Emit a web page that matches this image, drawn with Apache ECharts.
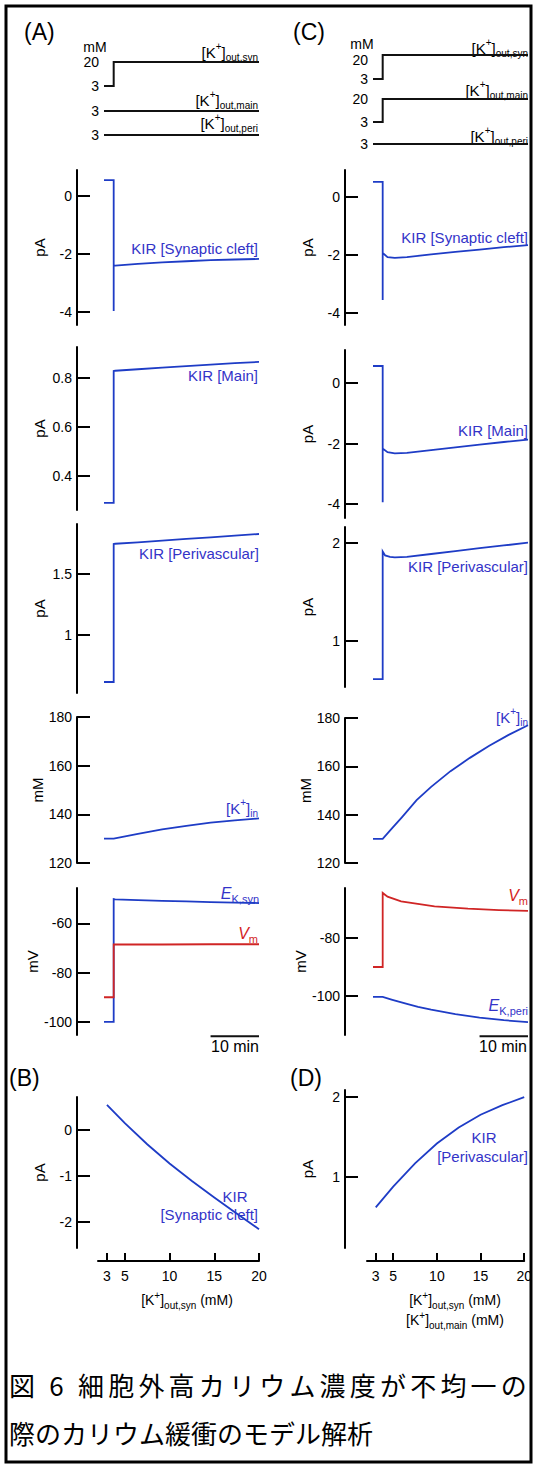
<!DOCTYPE html>
<html><head><meta charset="utf-8">
<script src="https://cdn.jsdelivr.net/npm/echarts@6/dist/echarts.min.js"></script>
<style>html,body{margin:0;padding:0;background:#fff}#c{width:535px;height:1468px}</style>
</head><body><div id="c"></div>
<script>
// ---------------- DATA ----------------
// header traces: extracellular K+ (mM) vs time (min)
const tHeadStep = [-2, 0, 0, 30];
const tHeadFlat = [-2, 30];
const kOutSynA = [3, 3, 20, 20];
const kOutMainA = [3, 3];
const kOutPeriA = [3, 3];
const kOutSynC = [3, 3, 20, 20];
const kOutMainC = [3, 3, 20, 20];
const kOutPeriC = [3, 3];

// (A) KIR currents (pA)
const tKirSynA = [-2, 0, 0, 0, 0.3, 5, 10, 15, 20, 25, 30];
const kirSynA = [0.55, 0.55, -3.97, -2.41, -2.40, -2.34, -2.29, -2.25, -2.21, -2.19, -2.17];
const tKirMainA = [-2, 0, 0, 0.3, 5, 10, 15, 20, 25, 30];
const kirMainA = [0.29, 0.29, 0.829, 0.830, 0.836, 0.843, 0.849, 0.855, 0.861, 0.866];
const tKirPeriA = [-2, 0, 0, 0.3, 5, 10, 15, 20, 25, 30];
const kirPeriA = [0.615, 0.615, 1.746, 1.748, 1.760, 1.774, 1.788, 1.801, 1.815, 1.828];
// (A) intracellular K+ (mM)
const tKinA = [-2, 0, 5, 10, 15, 20, 25, 30];
const kInA = [130, 130, 132, 133.8, 135.3, 136.6, 137.5, 138.3];
// (A) potentials (mV)
const tEkA = [-2, 0, 0, 0.3, 5, 10, 15, 20, 25, 30];
const ekSynA = [-100, -100, -50.2, -50.3, -50.6, -50.9, -51.1, -51.4, -51.6, -51.8];
const tVmA = [-2, 0, 0, 10, 20, 30];
const vmA = [-90, -90, -68.6, -68.6, -68.5, -68.5];

// (C) KIR currents (pA)
const tKirSynC = [-2, 0, 0, 0, 1, 2.5, 5, 10, 15, 20, 25, 30];
const kirSynC = [0.52, 0.52, -3.55, -1.93, -2.07, -2.10, -2.07, -1.98, -1.89, -1.81, -1.73, -1.66];
const tKirMainC = [-2, 0, 0, 0, 1, 2.5, 5, 10, 15, 20, 25, 30];
const kirMainC = [0.57, 0.57, -3.95, -2.17, -2.29, -2.33, -2.31, -2.22, -2.13, -2.04, -1.95, -1.87];
const tKirPeriC = [-2, 0, 0, 0.5, 1.5, 2.5, 5, 10, 15, 20, 25, 30];
const kirPeriC = [0.61, 0.61, 1.91, 1.87, 1.855, 1.85, 1.855, 1.885, 1.915, 1.945, 1.972, 2.0];
// (C) intracellular K+ (mM)
const tKinC = [-2, 0, 2, 4, 7, 10, 14, 18, 22, 26, 30];
const kInC = [130, 130, 134.5, 139, 146, 151.5, 158, 163.5, 168.5, 173, 177];
// (C) potentials (mV)
const tVmC = [-2, 0, 0, 1, 3.8, 10.7, 17.6, 24, 30];
const vmC = [-90, -90, -64.5, -65.8, -67.4, -69.1, -69.9, -70.4, -70.7];
const tEkC = [-2, 0, 2, 5, 7.3, 10, 15, 20, 25, 30];
const ekPeriC = [-100.3, -100.3, -101.3, -102.7, -103.7, -104.7, -106.2, -107.4, -108.3, -109];

// scale bar (min)
const scaleBarT = [20, 30];

// (B) and (D): steady-state KIR current vs [K+]out (mM)
const kOutB = [3, 5, 7.5, 10, 12.5, 15, 17.5, 20];
const kirSynB = [0.55, 0.15, -0.31, -0.73, -1.11, -1.47, -1.82, -2.16];
const kOutD = [3, 5, 7.5, 10, 12.5, 15, 17.5, 20];
const kirPeriD = [0.62, 0.88, 1.17, 1.42, 1.62, 1.78, 1.90, 2.0];
const kTicks = [3, 5, 10, 15, 20];

// caption
const captionLine1 = '図 6 細胞外高カリウム濃度が不均一の';
const captionLine2 = '際のカリウム緩衝のモデル解析';

// ---------------- STYLE ----------------
const FONT = '"Liberation Sans", Arial, Helvetica, sans-serif';
const JP = '"Noto Sans CJK JP", sans-serif';
const BLUE = '#1e3cc6';
const BLUE_T = '#3333c8';
const RED = '#d02525';
const RED_T = '#d41e1e';

const pair = (xs, ys) => xs.map((x, i) => [x, ys[i]]);
const grids = [], xAxes = [], yAxes = [], series = [];

function addGrid(g, xa, ya) {
  const i = grids.length;
  grids.push(Object.assign({containLabel: false}, g));
  xAxes.push(Object.assign({gridIndex: i, type: 'value', show: false}, xa));
  yAxes.push(Object.assign({gridIndex: i, type: 'value'}, ya));
  return i;
}
function line(gi, data, color, w) {
  series.push({type: 'line', xAxisIndex: gi, yAxisIndex: gi, data, symbol: 'none', showSymbol: false,
    clip: false, silent: true, animation: false, lineStyle: {color, width: w || 1.8, join: 'miter', cap: 'butt'}});
}
function headAxis(labels, lowTop) {
  const lab = {show: true, customValues: labels, margin: 5, fontSize: 14, color: '#000', fontFamily: FONT};
  if (lowTop) {
    lab.formatter = v => (v === 20 ? '{d|' + v + '}' : '{e|' + v + '}');
    lab.rich = {d: {fontSize: 14, fontFamily: FONT, color: '#000', padding: [10, 0, 0, 0]},
                e: {fontSize: 14, fontFamily: FONT, color: '#000'}};
  }
  return {min: 3, max: 20, axisLine: {show: false}, axisTick: {show: false}, splitLine: {show: false}, axisLabel: lab};
}
function traceAxis(min, max, ticks, name, offset) {
  return {min, max, offset, splitLine: {show: false},
    axisLine: {show: true, onZero: false, lineStyle: {color: '#000', width: 2}},
    axisTick: {show: true, inside: true, length: 13, customValues: ticks, lineStyle: {color: '#000', width: 2}},
    axisLabel: {show: true, customValues: ticks, margin: 5, fontSize: 14, color: '#000', fontFamily: FONT},
    name, nameLocation: 'middle', nameGap: 30,
    nameTextStyle: {fontSize: 15, color: '#000', fontFamily: FONT}};
}
const TX = {min: -2, max: 30};
const AL = 104, CL = 373, W = 155;

// headers
line(addGrid({left: AL, top: 62, width: W, height: 24}, TX, headAxis([3, 20])), pair(tHeadStep, kOutSynA), '#111', 2);
line(addGrid({left: AL, top: 87, width: W, height: 24}, TX, headAxis([3])), pair(tHeadFlat, kOutMainA), '#111', 2);
line(addGrid({left: AL, top: 111, width: W, height: 24}, TX, headAxis([3])), pair(tHeadFlat, kOutPeriA), '#111', 2);
line(addGrid({left: CL, top: 55, width: W, height: 24}, TX, headAxis([3, 20], true)), pair(tHeadStep, kOutSynC), '#111', 2);
line(addGrid({left: CL, top: 99, width: W, height: 23}, TX, headAxis([3, 20])), pair(tHeadStep, kOutMainC), '#111', 2);
line(addGrid({left: CL, top: 120, width: W, height: 24}, TX, headAxis([3])), pair(tHeadFlat, kOutPeriC), '#111', 2);

// column A
line(addGrid({left: AL, top: 170, width: W, height: 155}, TX, traceAxis(-4.45, 0.9, [-4, -2, 0], 'pA', 27)), pair(tKirSynA, kirSynA), BLUE);
line(addGrid({left: AL, top: 347, width: W, height: 163}, TX, traceAxis(0.261, 0.927, [0.4, 0.6, 0.8], 'pA', 27)), pair(tKirMainA, kirMainA), BLUE);
line(addGrid({left: AL, top: 524, width: W, height: 169}, TX, traceAxis(0.525, 1.91, [1, 1.5], 'pA', 27)), pair(tKirPeriA, kirPeriA), BLUE);
line(addGrid({left: AL, top: 717, width: W, height: 146}, TX, traceAxis(120, 180, [120, 140, 160, 180], 'mM', 27)), pair(tKinA, kInA), BLUE);
const gA5 = addGrid({left: AL, top: 888, width: W, height: 147}, TX, traceAxis(-105.3, -45.7, [-100, -80, -60], 'mV', 27));
line(gA5, pair(tEkA, ekSynA), BLUE);
line(gA5, pair(tVmA, vmA), RED);
line(gA5, scaleBarT.map(t => [t, -105.8]), '#111', 2);

// column C
line(addGrid({left: CL, top: 170, width: W, height: 155}, TX, traceAxis(-4.41, 0.93, [-4, -2, 0], 'pA', 28)), pair(tKirSynC, kirSynC), BLUE);
line(addGrid({left: CL, top: 350, width: W, height: 168}, TX, traceAxis(-4.47, 1.1, [-4, -2, 0], 'pA', 28)), pair(tKirMainC, kirMainC), BLUE);
line(addGrid({left: CL, top: 527, width: W, height: 160}, TX, traceAxis(0.53, 2.16, [1, 2], 'pA', 28)), pair(tKirPeriC, kirPeriC), BLUE);
line(addGrid({left: CL, top: 718, width: W, height: 145}, TX, traceAxis(120, 180, [120, 140, 160, 180], 'mM', 28)), pair(tKinC, kInC), BLUE);
const gC5 = addGrid({left: CL, top: 888, width: W, height: 147}, TX, traceAxis(-113.4, -62.8, [-100, -80], 'mV', 28));
line(gC5, pair(tVmC, vmC), RED);
line(gC5, pair(tEkC, ekPeriC), BLUE);
line(gC5, scaleBarT.map(t => [t, -113.8]), '#111', 2);

// (B), (D)
function kAxis() {
  return {show: true, min: 2, max: 20, offset: 13,
    axisLine: {show: true, onZero: false, lineStyle: {color: '#000', width: 2}},
    axisTick: {show: true, inside: true, length: 8, customValues: kTicks, lineStyle: {color: '#000', width: 2}},
    axisLabel: {show: true, customValues: kTicks, margin: 8, fontSize: 14, color: '#000', fontFamily: FONT},
    splitLine: {show: false}};
}
line(addGrid({left: AL - 6, top: 1097, width: W + 6, height: 151}, kAxis(), traceAxis(-2.57, 0.72, [-2, -1, 0], 'pA', 21)), pair(kOutB, kirSynB), BLUE);
line(addGrid({left: CL - 6, top: 1090, width: W + 6, height: 158}, kAxis(), traceAxis(0.11, 2.09, [1, 2], 'pA', 22)), pair(kOutD, kirPeriD), BLUE);

// ---------------- TEXT ----------------
function rich(size, color) {
  const s = Math.round(size * 0.68);
  return {
    n: {fontSize: size, fontFamily: FONT, color, lineHeight: size + 6},
    i: {fontSize: size, fontFamily: FONT, fontStyle: 'italic', color, lineHeight: size + 6},
    sup: {fontSize: s, fontFamily: FONT, color, lineHeight: s, verticalAlign: 'top'},
    sub: {fontSize: s, fontFamily: FONT, color, lineHeight: s, verticalAlign: 'bottom'},
    c: {fontSize: 26, fontFamily: JP, color: '#000', lineHeight: 30, padding: [0, 2.1, 0, 2.1]}
  };
}
function txt(x, y, text, opt) {
  opt = opt || {};
  const size = opt.size || 15, color = opt.color || '#000';
  return {type: 'text', x, y, silent: true, style: {text, rich: rich(size, color), fill: color,
    fontSize: size, fontFamily: opt.family || FONT, align: opt.align || 'right', verticalAlign: opt.va || 'middle',
    fontStyle: opt.style || 'normal'}};
}
function plain(x, y, text, size, align) {
  return {type: 'text', x, y, silent: true, style: {text, fill: '#000', fontSize: size, fontFamily: FONT,
    align: align || 'left', verticalAlign: 'middle'}};
}
const kLab = s => '{n|[K}{sup|+}{n|]}{sub|' + s + '}';
const spread = s => Array.from(s).map(ch => '{c|' + ch + '}').join('');
const graphic = [
  {type: 'rect', shape: {x: 6, y: 6, width: 525, height: 1456}, style: {fill: 'none', stroke: '#000', lineWidth: 3}, silent: true},
  plain(24, 32, '(A)', 23),
  plain(293, 32, '(C)', 23),
  plain(9, 1078, '(B)', 23),
  plain(290, 1078, '(D)', 23),
  plain(95, 47, 'mM', 14, 'center'),
  plain(362, 44, 'mM', 14, 'center'),
  txt(258, 52, kLab('out,syn')),
  txt(258, 100, kLab('out,main')),
  txt(258, 123, kLab('out,peri')),
  txt(528, 48, kLab('out,syn')),
  txt(528, 90, kLab('out,main')),
  txt(528, 136, kLab('out,peri')),
  txt(258, 248, '{n|KIR [Synaptic cleft]}', {color: BLUE_T}),
  txt(528, 237, '{n|KIR [Synaptic cleft]}', {color: BLUE_T}),
  txt(258, 375, '{n|KIR [Main]}', {color: BLUE_T}),
  txt(528, 430, '{n|KIR [Main]}', {color: BLUE_T}),
  txt(259, 553, '{n|KIR [Perivascular]}', {color: BLUE_T}),
  txt(528, 566, '{n|KIR [Perivascular]}', {color: BLUE_T}),
  txt(258, 808, '{n|[K}{sup|+}{n|]}{sub|in}', {color: BLUE_T}),
  txt(528, 717, '{n|[K}{sup|+}{n|]}{sub|in}', {color: BLUE_T}),
  txt(259, 893, '{i|E}{sub|K,syn}', {color: BLUE_T, size: 16}),
  txt(258, 933, '{i|V}{sub|m}', {color: RED_T, size: 16}),
  txt(528, 895, '{i|V}{sub|m}', {color: RED_T, size: 16}),
  txt(528, 1005, '{i|E}{sub|K,peri}', {color: BLUE_T, size: 16}),
  plain(235, 1046, '10 min', 16, 'center'),
  plain(503, 1046, '10 min', 16, 'center'),
  txt(187, 1300, kLab('out,syn') + '{n| (mM)}', {size: 14, align: 'center'}),
  txt(455, 1300, kLab('out,syn') + '{n| (mM)}', {size: 14, align: 'center'}),
  txt(455, 1320, kLab('out,main') + '{n| (mM)}', {size: 14, align: 'center'}),
  txt(235, 1196, '{n|KIR}', {color: BLUE_T, align: 'center'}),
  txt(258, 1214, '{n|[Synaptic cleft]}', {color: BLUE_T}),
  txt(484, 1137, '{n|KIR}', {color: BLUE_T, align: 'center'}),
  txt(528, 1156, '{n|[Perivascular]}', {color: BLUE_T}),
  txt(7, 1384, spread(captionLine1), {align: 'left', family: JP}),
  {type: 'text', x: 9, y: 1432, silent: true, style: {text: captionLine2, fontSize: 26,
    fontFamily: JP, fill: '#000', align: 'left', verticalAlign: 'middle'}}
];

const chart = echarts.init(document.getElementById('c'), null, {renderer: 'svg'});
chart.setOption({animation: false, backgroundColor: '#fff', grid: grids, xAxis: xAxes, yAxis: yAxes, series, graphic});
</script></body></html>
